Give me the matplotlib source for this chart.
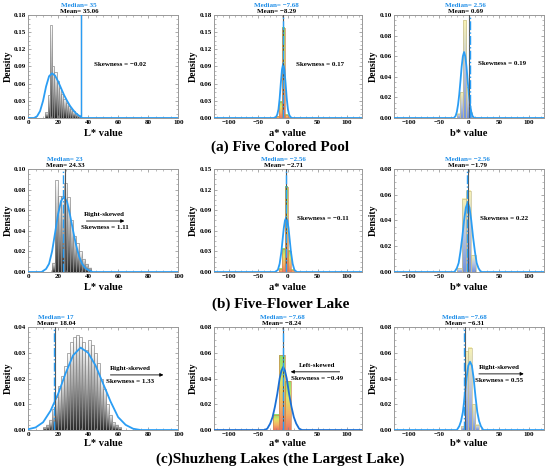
import numpy as np
import matplotlib.pyplot as plt
from matplotlib.colors import LinearSegmentedColormap

plt.rcParams['font.family'] = ['Liberation Serif', 'DejaVu Serif']
plt.rcParams['font.weight'] = 'bold'
plt.rcParams['axes.labelweight'] = 'bold'

# ---------------- data ----------------
# (a) Five Colored Pool
a_L_left = [11.5, 13, 14.5, 16, 17.5, 19, 20.5, 22, 23.5, 25, 26.5, 28, 29.5, 31, 32.5, 34]
a_L_dens = [0.01, 0.04, 0.162, 0.09, 0.08, 0.065, 0.052, 0.042, 0.034, 0.027, 0.021, 0.016,
            0.012, 0.008, 0.005, 0.003]
a_L_cx = [0, 4, 6, 8, 10, 12, 14, 16, 18, 20, 22, 24, 26, 28, 30, 32, 34, 35, 35.5, 100]
a_L_cy = [0, 0, 0.003, 0.012, 0.03, 0.055, 0.073, 0.078, 0.074, 0.064, 0.052, 0.04, 0.03,
          0.021, 0.014, 0.008, 0.004, 0.003, 0, 0]

a_a_left = [-20, -15, -10, -5, 0]
a_a_dens = [0.003, 0.028, 0.158, 0.006, 0.001]
a_a_cx = [-125, -24, -20, -18, -16, -14, -12, -10, -8, -6, -4, -2, 0, 2, 4, 7, 125]
a_a_cy = [0, 0, 0.002, 0.006, 0.015, 0.034, 0.061, 0.085, 0.095, 0.085, 0.061, 0.034,
          0.015, 0.006, 0.002, 0, 0]

a_b_left = [-20, -15, -10, -5, 0]
a_b_dens = [0.004, 0.025, 0.095, 0.03, 0.005]
a_b_cx = [-125, -25, -22, -20, -18, -16, -14, -12, -10, -8, -6, -4, -2, 0, 2, 4, 6, 9, 125]
a_b_cy = [0, 0, 0.002, 0.006, 0.013, 0.023, 0.036, 0.05, 0.06, 0.064, 0.06, 0.05, 0.036,
          0.023, 0.013, 0.006, 0.002, 0, 0]

# (b) Five-Flower Lake
b_L_left = [16, 18, 20, 22, 24, 26, 28, 30, 32, 34, 36, 38, 40]
b_L_dens = [0.009, 0.089, 0.074, 0.074, 0.086, 0.073, 0.05, 0.035, 0.028, 0.02, 0.013,
            0.008, 0.004]
b_L_cx = [0, 9, 12, 14, 16, 18, 20, 22, 24, 26, 28, 30, 32, 34, 36, 38, 40, 43, 100]
b_L_cy = [0, 0, 0.003, 0.008, 0.02, 0.038, 0.056, 0.069, 0.073, 0.068, 0.055, 0.04, 0.026,
          0.015, 0.008, 0.004, 0.002, 0, 0]

b_a_left = [-15, -10, -5, 0, 5]
b_a_dens = [0.005, 0.034, 0.124, 0.031, 0.003]
b_a_cx = [-125, -22, -17, -14, -11, -9, -7, -5, -3, -1, 1, 3, 5, 8, 11, 15, 125]
b_a_cy = [0, 0, 0.003, 0.012, 0.03, 0.047, 0.064, 0.075, 0.079, 0.075, 0.064, 0.047, 0.03,
          0.012, 0.003, 0, 0]

b_b_left = [-20, -12, -4, 4]
b_b_dens = [0.003, 0.057, 0.063, 0.013]
b_b_cx = [-125, -24, -20, -17, -14, -11, -8, -5, -2, 1, 4, 7, 10, 13, 16, 20, 125]
b_b_cy = [0, 0, 0.003, 0.007, 0.016, 0.027, 0.04, 0.05, 0.054, 0.05, 0.04, 0.027, 0.016,
          0.007, 0.003, 0, 0]

# (c) Shuzheng Lakes
c_L_left = [10, 12, 14, 16, 18, 20, 22, 24, 26, 28, 30, 32, 34, 36, 38, 40, 42, 44, 46, 48,
            50, 52, 54, 56, 58, 60]
c_L_dens = [0.001, 0.002, 0.004, 0.008, 0.013, 0.017, 0.021, 0.025, 0.03, 0.034, 0.036,
            0.037, 0.036, 0.034, 0.031, 0.035, 0.033, 0.03, 0.026, 0.02, 0.016, 0.01, 0.006,
            0.003, 0.002, 0.001]
c_L_cx = [0, 5, 10, 15, 20, 25, 30, 35, 40, 45, 50, 55, 60, 65, 70, 75, 100]
c_L_cy = [0.0003, 0.001, 0.003, 0.0075, 0.014, 0.022, 0.029, 0.032, 0.03, 0.025, 0.018,
          0.011, 0.005, 0.002, 0.0005, 0, 0]

c_a_left = [-25, -15, -5]
c_a_dens = [0.012, 0.058, 0.038]
c_a_cx = [-125, -40, -35, -30, -26, -22, -18, -14, -11, -8, -5, -2, 2, 6, 10, 14, 19, 24, 125]
c_a_cy = [0, 0, 0.001, 0.005, 0.01, 0.018, 0.028, 0.04, 0.046, 0.049, 0.046, 0.04, 0.028,
          0.018, 0.01, 0.005, 0.001, 0, 0]

c_b_left = [-13, -7, -1, 5, 11]
c_b_dens = [0.003, 0.061, 0.064, 0.02, 0.004]
c_b_cx = [-125, -20, -16, -13, -10, -7, -4, -1, 2, 5, 8, 11, 14, 17, 20, 24, 125]
c_b_cy = [0, 0, 0.003, 0.007, 0.014, 0.026, 0.04, 0.05, 0.053, 0.05, 0.04, 0.026, 0.014,
          0.007, 0.003, 0, 0]

medians = [35, -7.68, 2.56, 23, -2.56, -2.56, 17, -7.68, -7.68]
means = [35.06, -8.29, 0.69, 24.33, -2.71, -1.79, 18.04, -8.24, -6.31]
median_txt = ['35', '\u22127.68', '2.56', '23', '\u22122.56', '\u22122.56', '17', '\u22127.68', '\u22127.68']
mean_txt = ['35.06', '\u22128.29', '0.69', '24.33', '\u22122.71', '\u22121.79', '18.04', '\u22128.24', '\u22126.31']
skews = ['\u22120.02', '0.17', '0.19', '1.11', '\u22120.11', '0.22', '1.33', '\u22120.49', '0.55']
skew_kind = [None, None, None, 'Right-skewed', None, None, 'Right-skewed', 'Left-skewed', 'Right-skewed']
ymax = [0.18, 0.18, 0.10, 0.10, 0.15, 0.08, 0.04, 0.08, 0.08]
ystep = [0.03, 0.03, 0.02, 0.02, 0.03, 0.02, 0.01, 0.02, 0.02]
titles = ['(a) Five Colored Pool', '(b) Five-Flower Lake', '(c)Shuzheng Lakes (the Largest Lake)']

bars = [(a_L_left, 1.5, a_L_dens), (a_a_left, 5, a_a_dens), (a_b_left, 5, a_b_dens),
        (b_L_left, 2, b_L_dens), (b_a_left, 5, b_a_dens), (b_b_left, 8, b_b_dens),
        (c_L_left, 2, c_L_dens), (c_a_left, 10, c_a_dens), (c_b_left, 6, c_b_dens)]
curves = [(a_L_cx, a_L_cy), (a_a_cx, a_a_cy), (a_b_cx, a_b_cy),
          (b_L_cx, b_L_cy), (b_a_cx, b_a_cy), (b_b_cx, b_b_cy),
          (c_L_cx, c_L_cy), (c_a_cx, c_a_cy), (c_b_cx, c_b_cy)]

# ---------------- layout / style ----------------
# text positions (x in data units, y as fraction of ymax)
label_x = [34, -20, -5, 24.5, -8, -3, 18.5, -10, -7]
skew_pos = [(61, 0.52), (54, 0.52), (55, 0.53), (51, 0.47), (59, 0.52), (59, 0.52),
            (68, 0.51), (50, 0.54), (50, 0.52)]
arrows = [None, None, None, (37, 66), None, None, (53, 92), (92, 0), (12, 96)]
med_style = ['-', '-.', '-.', '-.', '-.', '-.', '-.', '-.', '-.']
curve_col = ['#2a9df4'] * 7 + ['#1a6fd6', '#2a9df4']

gray_cm = LinearSegmentedColormap.from_list('g', ['#2a2a2a', '#a0a0a0', '#ffffff'])
ag_cm = LinearSegmentedColormap.from_list('ag', ['#e8503a', '#f0a040', '#d8e040', '#6fdc4a'])
by_cm = LinearSegmentedColormap.from_list('by', ['#4f78d8', '#a9b8d8', '#f8f0a0'])
cmaps = [gray_cm, ag_cm, by_cm]
edges = ['#8c8c8c', '#d08a50', '#c8c090']
grad = np.linspace(0, 1, 64).reshape(-1, 1)

col_left = [0.051, 0.389, 0.716]
col_w = [0.273, 0.269, 0.273]
row_bot = [0.7495, 0.4225, 0.087]
row_h = 0.2187
title_y = [0.688, 0.353, 0.025]
xlab_pad = [2.5, 2.5, 1.2]

fig = plt.figure(figsize=(5.5, 4.71), dpi=100)

for i in range(9):
    r, c = divmod(i, 3)
    ax = fig.add_axes([col_left[c], row_bot[r], col_w[c], row_h])
    left, width, dens = bars[i]
    for x0, h in zip(left, dens):
        ax.imshow(grad, extent=(x0, x0 + width, 0, h), origin='lower', aspect='auto',
                  cmap=cmaps[c], alpha=1.0 if c == 0 else 0.8, zorder=1)
    ax.bar(left, dens, width=width, align='edge', fill=False, edgecolor=edges[c],
           linewidth=0.5, zorder=2)
    cx, cy = curves[i]
    ax.plot(cx, cy, color=curve_col[i], lw=1.3, zorder=3)
    ax.axvline(means[i], color='#555555', lw=0.8, zorder=4)
    ax.axvline(medians[i], color='#2a9df4', lw=1.0, ls=med_style[i], zorder=5)

    if c == 0:
        ax.set_xlim(0, 100)
        ax.set_xticks([0, 20, 40, 60, 80, 100])
        ax.set_xlabel('L* value', fontsize=7.5, labelpad=xlab_pad[r])
    else:
        ax.set_xlim(-125, 125)
        ax.set_xticks([-100, -50, 0, 50, 100])
        ax.set_xticklabels(['\u2212100', '\u221250', '0', '50', '100'])
        ax.set_xlabel('a* value' if c == 1 else 'b* value', fontsize=7.5, labelpad=xlab_pad[r])
    ax.set_ylim(0, ymax[i])
    yt = np.arange(0, ymax[i] + 1e-9, ystep[i])
    ax.set_yticks(yt)
    ax.set_yticklabels(['%.2f' % v for v in yt])
    ax.set_ylabel('Density', fontsize=7, labelpad=1)
    ax.minorticks_on()
    ax.tick_params(which='both', direction='in', top=True, right=True, color='#888888',
                   labelsize=5, pad=1.5)
    ax.tick_params(which='major', length=2.5, width=0.5)
    ax.tick_params(which='minor', length=1.2, width=0.4)
    for s in ax.spines.values():
        s.set_color('#999999')
        s.set_linewidth(0.7)

    tr = ax.get_xaxis_transform()
    ax.text(label_x[i], 1.095, 'Median= ' + median_txt[i], transform=tr, ha='center',
            va='center', fontsize=5, color='#1f8ee8', clip_on=False)
    ax.text(label_x[i], 1.035, 'Mean= ' + mean_txt[i], transform=tr, ha='center',
            va='center', fontsize=5, color='black', clip_on=False)

    sx, sy = skew_pos[i]
    if skew_kind[i] is None:
        ax.text(sx, sy * ymax[i], 'Skewness = ' + skews[i], ha='center', va='center',
                fontsize=5)
    else:
        ax.text(sx, (sy + 0.09) * ymax[i], skew_kind[i], ha='center', va='center', fontsize=5)
        ax.text(sx, (sy - 0.04) * ymax[i], 'Skewness = ' + skews[i], ha='center',
                va='center', fontsize=5)
        x_tail, x_head = arrows[i]
        ax.annotate('', xy=(x_head, (sy + 0.025) * ymax[i]), xytext=(x_tail, (sy + 0.025) * ymax[i]),
                    arrowprops=dict(arrowstyle='-|>', lw=0.6, color='black', mutation_scale=5))

for r in range(3):
    fig.text(0.51, title_y[r], titles[r], ha='center', va='center', fontsize=11)

fig.savefig('out.png', dpi=100)
